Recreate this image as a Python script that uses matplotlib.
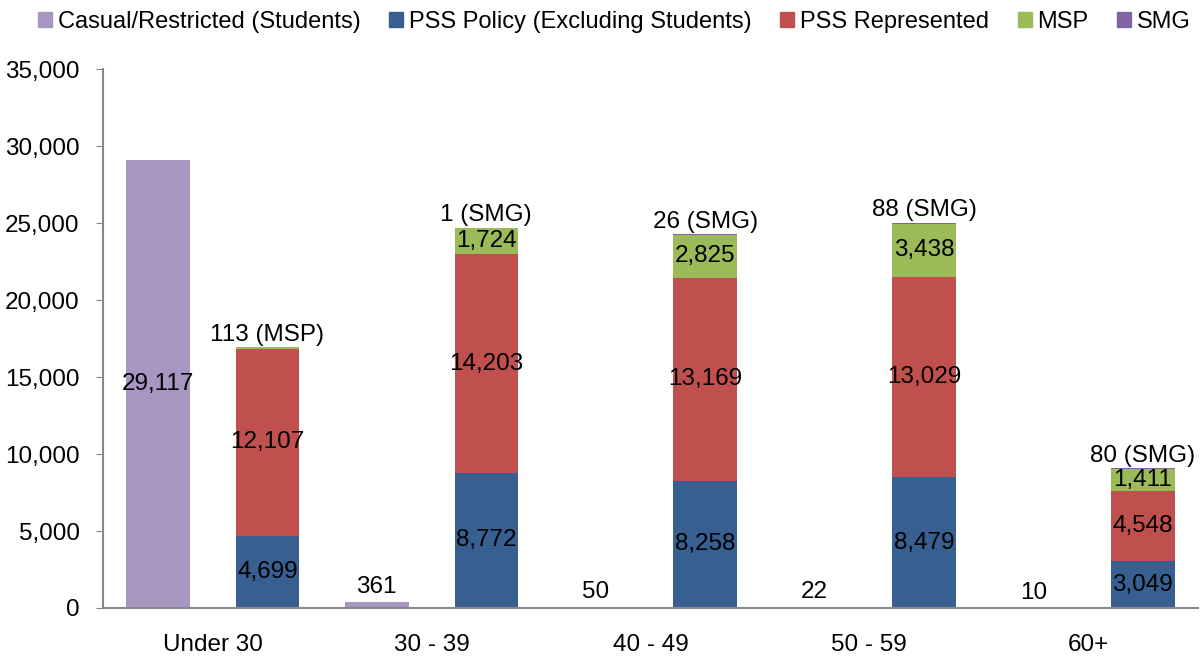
import numpy as np
import matplotlib.pyplot as plt
from matplotlib.patches import Patch
from matplotlib.ticker import FuncFormatter

plt.rcParams['font.family'] = ['Liberation Sans', 'DejaVu Sans']

groups = ['Under 30', '30 - 39', '40 - 49', '50 - 59', '60+']
casual = [29117, 361, 50, 22, 10]
pss_policy = [4699, 8772, 8258, 8479, 3049]
pss_rep = [12107, 14203, 13169, 13029, 4548]
msp = [113, 1724, 2825, 3438, 1411]
smg = [0, 1, 26, 88, 80]

c_casual = '#A896C2'
c_policy = '#376091'
c_rep = '#C0504D'
c_msp = '#9BBB59'
c_smg = '#8064A2'

x = np.arange(len(groups))
w = 0.29
off = 0.25

fig = plt.figure(figsize=(12, 6.58), dpi=100)
ax = fig.add_axes([0.086, 0.076, 0.912, 0.819])

ax.bar(x - off, casual, w, color=c_casual)
b1 = np.array(pss_policy)
b2 = b1 + np.array(pss_rep)
b3 = b2 + np.array(msp)
ax.bar(x + off, pss_policy, w, color=c_policy)
ax.bar(x + off, pss_rep, w, bottom=b1, color=c_rep)
ax.bar(x + off, msp, w, bottom=b2, color=c_msp)
ax.bar(x + off, smg, w, bottom=b3, color=c_smg)

fs = 17.5
for i in range(len(groups)):
    # casual label
    if casual[i] > 5000:
        ax.text(x[i] - off, casual[i] / 2, f'{casual[i]:,}', ha='center', va='center', fontsize=fs)
    else:
        ax.annotate(f'{casual[i]:,}', (x[i] - off, casual[i]), xytext=(0, 3),
                    textcoords='offset points', ha='center', va='bottom', fontsize=fs)
    ax.text(x[i] + off, pss_policy[i] / 2, f'{pss_policy[i]:,}', ha='center', va='center', fontsize=fs)
    ax.text(x[i] + off, b1[i] + pss_rep[i] / 2, f'{pss_rep[i]:,}', ha='center', va='center', fontsize=fs)
    top = b3[i] + smg[i]
    if msp[i] > 500:
        ax.text(x[i] + off, b2[i] + msp[i] / 2, f'{msp[i]:,}', ha='center', va='center', fontsize=fs)
        lab = f'{smg[i]:,} (SMG)'
    else:
        lab = f'{msp[i]:,} (MSP)'
    ax.annotate(lab, (x[i] + off, top), xytext=(0, 1), textcoords='offset points',
                ha='center', va='bottom', fontsize=fs)

ax.set_xlim(-0.5, 4.5)
ax.set_ylim(0, 35000)
ax.set_yticks(np.arange(0, 35001, 5000))
ax.yaxis.set_major_formatter(FuncFormatter(lambda v, p: f'{int(v):,}'))
ax.set_xticks(x)
ax.set_xticklabels(groups)
ax.tick_params(axis='x', length=0, pad=19, labelsize=fs)
ax.tick_params(axis='y', length=5, color='#888888', labelsize=fs, pad=12)
for s in ['top', 'right']:
    ax.spines[s].set_visible(False)
for s in ['left', 'bottom']:
    ax.spines[s].set_color('#888888')
    ax.spines[s].set_linewidth(1.5)

handles = [Patch(color=c) for c in [c_casual, c_policy, c_rep, c_msp, c_smg]]
labels = ['Casual/Restricted (Students)', 'PSS Policy (Excluding Students)',
          'PSS Represented', 'MSP', 'SMG']
fig.legend(handles, labels, loc='upper center', bbox_to_anchor=(0.512, 1.016), ncol=5,
           frameon=False, fontsize=17, handlelength=0.6, handleheight=0.6,
           handletextpad=0.25, columnspacing=1.2)

fig.savefig('out.png', dpi=100)
